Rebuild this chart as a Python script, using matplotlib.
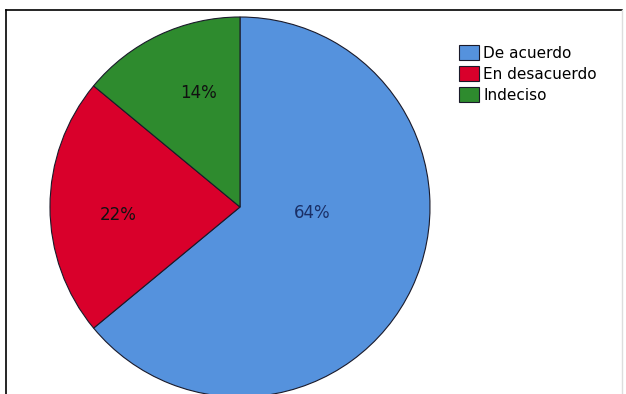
import matplotlib.pyplot as plt
from matplotlib.lines import Line2D

categorias = ["De acuerdo", "En desacuerdo", "Indeciso"]
porcentajes = [64, 22, 14]
colores = ["#5592DD", "#D9002B", "#2E8B2E"]

# where each percent label sits (in pie radius units)
pos_etiquetas = [(0.38, -0.03), (-0.64, -0.04), (-0.22, 0.60)]

W, H = 626, 394
fig = plt.figure(figsize=(W / 100, H / 100), dpi=100)
fig.patch.set_facecolor("white")

# pie centre (240, 207) px, radius 190 px
cx, cy, r = 240, 207, 190
ax = fig.add_axes([(cx - r) / W, (H - cy - r) / H, 2 * r / W, 2 * r / H])

wedges, textos, autot = ax.pie(porcentajes, colors=colores, startangle=90,
                               counterclock=False, radius=1.0,
                               autopct="%d%%",
                               wedgeprops=dict(edgecolor="#1a1a2a", linewidth=0.8))
for w in wedges:
    w.set_clip_on(False)
for t, (x, y) in zip(autot, pos_etiquetas):
    t.set_position((x, y))
    t.set_fontsize(12)
    t.set_color("#111111")
autot[0].set_color("#1a2f66")

ax.set_xlim(-1, 1)
ax.set_ylim(-1, 1)
ax.set_aspect("equal")
ax.axis("off")

leg = fig.legend(wedges, categorias, loc="upper left",
                 bbox_to_anchor=(445 / W, 1 - 31 / H), frameon=False,
                 fontsize=11, handlelength=1.3, handleheight=1.15,
                 handletextpad=0.3, labelspacing=0.35)

# outer frame
fig.add_artist(Line2D([6 / W, 622 / W], [1 - 10 / H, 1 - 10 / H], color="black", lw=1.2))
fig.add_artist(Line2D([6 / W, 6 / W], [0, 1 - 10 / H], color="black", lw=1.2))
fig.add_artist(Line2D([622 / W, 622 / W], [0, 1 - 10 / H], color="#dddddd", lw=1.0))

fig.savefig("out.png", dpi=100)
